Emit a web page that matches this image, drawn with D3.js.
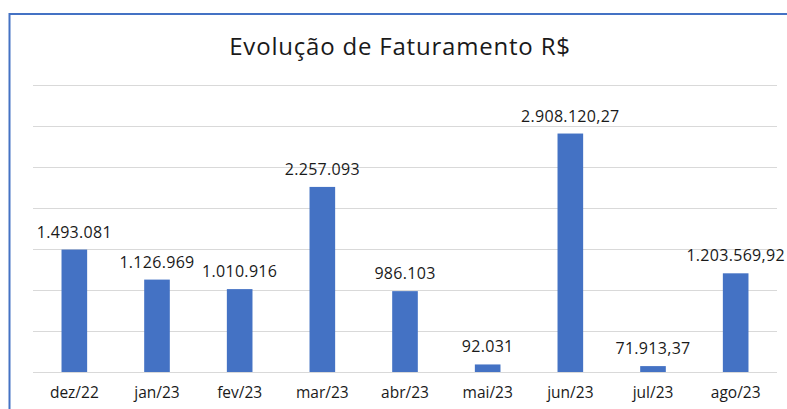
<!DOCTYPE html>
<html>
<head>
<meta charset="utf-8">
<script src="https://cdn.jsdelivr.net/npm/d3@7"></script>
<style>
  html, body { margin: 0; padding: 0; background: #fff; }
  svg { display: block; }
</style>
</head>
<body>
<svg id="chart" width="787" height="409"></svg>
<script>
const categories = ["dez/22", "jan/23", "fev/23", "mar/23", "abr/23", "mai/23", "jun/23", "jul/23", "ago/23"];
const values = [1493081, 1126969, 1010916, 2257093, 986103, 92031, 2908120.27, 71913.37, 1203569.92];
const valueLabels = ["1.493.081", "1.126.969", "1.010.916", "2.257.093", "986.103", "92.031", "2.908.120,27", "71.913,37", "1.203.569,92"];
const yTicks = [0, 500000, 1000000, 1500000, 2000000, 2500000, 3000000, 3500000];
const title = "Evolução de Faturamento R$";

const svg = d3.select("#chart");
const font = "'Open Sans', 'Noto Sans', sans-serif";

// chart border (extends past right/bottom edges)
svg.append("rect")
  .attr("x", 9.5).attr("y", 14)
  .attr("width", 800).attr("height", 420)
  .attr("fill", "#fff")
  .attr("stroke", "#4472C4").attr("stroke-width", 2);

const plot = { left: 33, right: 777, top: 85, bottom: 372 };

const x = d3.scaleBand()
  .domain(categories)
  .range([plot.left, plot.right])
  .paddingInner(0.69)
  .paddingOuter(0.345);

const y = d3.scaleLinear()
  .domain([0, 3500000])
  .range([plot.bottom, plot.top]);

// gridlines
svg.append("g")
  .selectAll("line")
  .data(yTicks)
  .join("line")
  .attr("x1", plot.left).attr("x2", plot.right)
  .attr("y1", d => Math.round(y(d)) + 0.5)
  .attr("y2", d => Math.round(y(d)) + 0.5)
  .attr("stroke", "#d9d9d9").attr("stroke-width", 1.2);

// bars
svg.append("g")
  .selectAll("rect")
  .data(values)
  .join("rect")
  .attr("x", (d, i) => x(categories[i]))
  .attr("width", x.bandwidth())
  .attr("y", d => y(d))
  .attr("height", d => y(0) - y(d))
  .attr("fill", "#4472C4");

// value labels
svg.append("g")
  .selectAll("text")
  .data(values)
  .join("text")
  .attr("x", (d, i) => x(categories[i]) + x.bandwidth() / 2)
  .attr("y", d => y(d) - 12)
  .attr("text-anchor", "middle")
  .attr("font-family", font)
  .attr("font-size", 16)
  .attr("letter-spacing", 0.3)
  .attr("fill", "#1a1a1a")
  .text((d, i) => valueLabels[i]);

// x axis labels
const xAxis = d3.axisBottom(x).tickSize(0).tickPadding(0);
const gx = svg.append("g")
  .attr("transform", `translate(0,${plot.bottom})`)
  .call(xAxis);
gx.select(".domain").remove();
gx.selectAll("text")
  .attr("dy", 0)
  .attr("y", 26)
  .attr("font-family", font)
  .attr("font-size", 15.5)
  .attr("fill", "#1a1a1a");

// title
svg.append("text")
  .attr("x", 400)
  .attr("y", 55)
  .attr("text-anchor", "middle")
  .attr("font-family", font)
  .attr("font-size", 24)
  .attr("letter-spacing", 0.8)
  .attr("fill", "#1a1a1a")
  .text(title);
</script>
</body>
</html>
